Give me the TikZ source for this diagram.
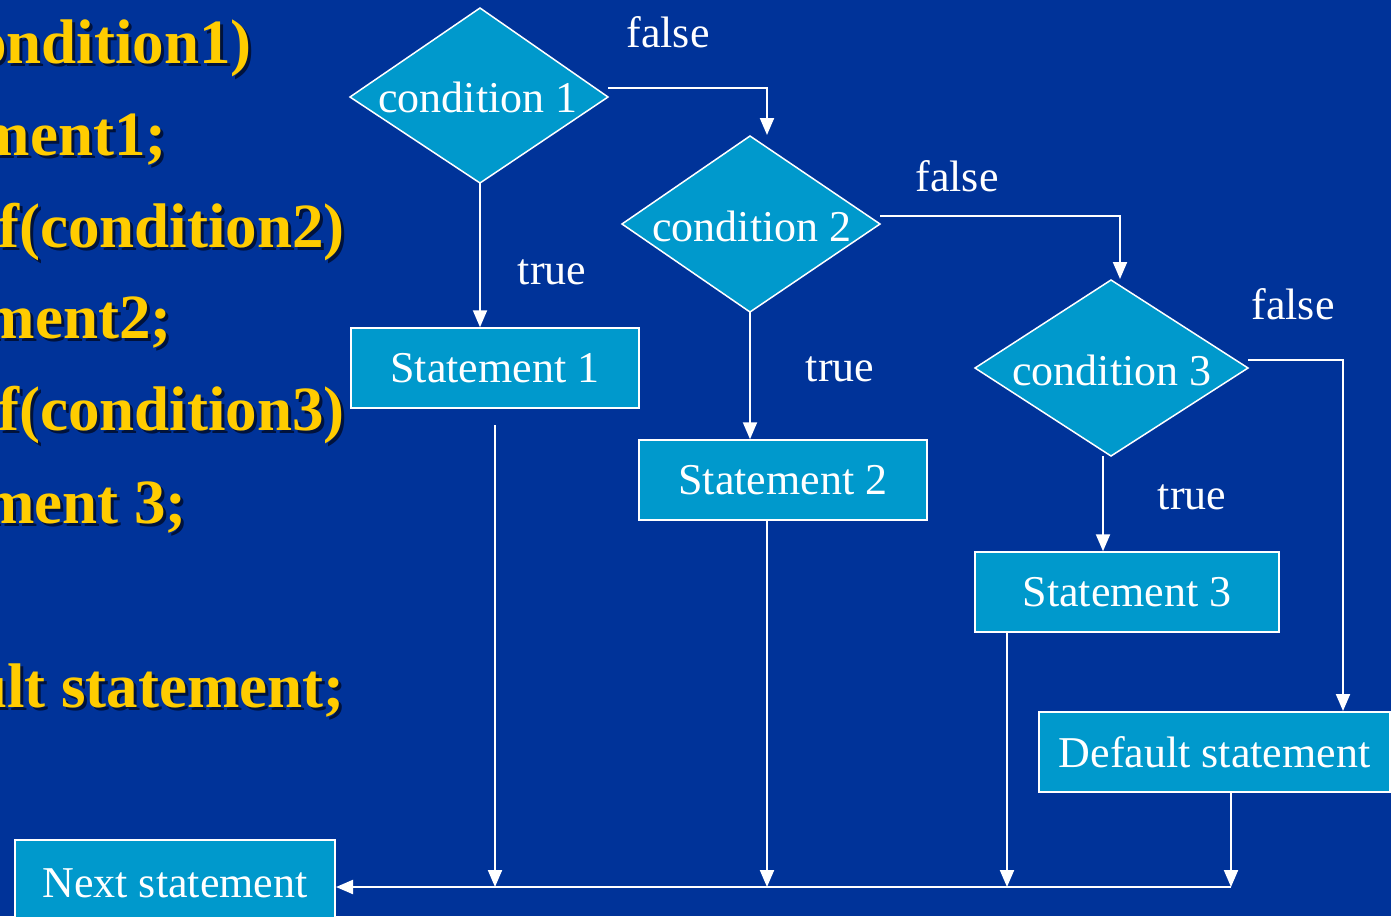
\documentclass[tikz,border=0pt]{standalone}
\usepackage{fontspec}
\setmainfont{Liberation Serif}
\usetikzlibrary{arrows.meta,calc}
\definecolor{bg}{RGB}{0,51,153}
\definecolor{boxc}{RGB}{0,153,204}
\definecolor{codey}{RGB}{255,204,0}
\definecolor{shadowc}{RGB}{0,18,60}
\begin{document}
\begin{tikzpicture}[x=1pt,y=-1pt,
  box/.style={draw=white, line width=1.5pt, fill=boxc, text=white, minimum height=80pt, inner sep=0pt, font=\fontsize{44}{50}\selectfont},
  dia/.style={draw=white, line width=1.5pt, fill=boxc},
  lbl/.style={text=white, inner sep=0pt, font=\fontsize{44}{50}\selectfont},
  arr/.style={draw=white, line width=2pt, -{Triangle[width=14pt,length=17pt]}},
  code/.style={font=\fontsize{63}{69}\selectfont\bfseries, text=codey, anchor=base east, inner sep=0pt},
  codesh/.style={font=\fontsize{63}{69}\selectfont\bfseries, text=shadowc, anchor=base east, inner sep=0pt}]
\useasboundingbox (0,0) rectangle (1391,916);
\fill[bg] (0,0) rectangle (1391,916);
\begin{scope}
\clip (0,0) rectangle (1391,916);
% code text
\foreach \t/\x/\y [count=\i] in {if(condition1)/252/63, statement1;/167/155, else if(condition2)/345/247, statement2;/172/338, else if(condition3)/345/430, statement 3;/187/523, default statement;/345/707}{
  \node[codesh] (s\i) at (\x+3,\y+3) {\t};
  \node[code] (t\i) at (\x,\y) {\t};
}
% diamonds
\path[dia] (350,97) -- (480,8) -- (608,97) -- (480,183) -- cycle;
\path[dia] (622,224) -- (750,136) -- (880,224) -- (750,312) -- cycle;
\path[dia] (975,368) -- (1111,280) -- (1248,368) -- (1111,456) -- cycle;
\node[lbl] (c1) at (478,97) {condition 1};
\node[lbl] (c2) at (752,226) {condition 2};
\node[lbl] (c3) at (1112,370) {condition 3};
% boxes
\node[box, minimum width=288pt] (st1) at (495,368) {Statement 1};
\node[box, minimum width=288pt] (st2) at (783,480) {Statement 2};
\node[box, minimum width=304pt] (st3) at (1127,592) {Statement 3};
\node[box, minimum width=351pt] (def) at (1214.5,752) {Default statement};
\node[box, minimum width=320pt, minimum height=94pt] (nx) at (175,887) {\raisebox{8pt}{Next statement}};
% labels
\node[lbl] (f1) at (668,32) {false};
\node[lbl] (f2) at (957,176) {false};
\node[lbl] (f3) at (1293,304) {false};
\node[lbl] (tr1) at (552,272) {true};
\node[lbl] (tr2) at (840,369) {true};
\node[lbl] (tr3) at (1192,497) {true};
% connector points
\coordinate (c1r) at (608,88);
\coordinate (c1b) at (480,183);
\coordinate (c2t) at (767,135);
\coordinate (c2r) at (880,216);
\coordinate (c2b) at (750,312);
\coordinate (c3t) at (1120,279);
\coordinate (c3r) at (1248,360);
\coordinate (c3b) at (1103,456);
\coordinate (dft) at (1343,711);
\coordinate (s1a) at (495,425);
\coordinate (s2a) at (767,520);
\coordinate (s3a) at (1007,632);
\coordinate (dfa) at (1231,792);
\coordinate (m1) at (495,887);
\coordinate (m2) at (767,887);
\coordinate (m3) at (1007,887);
\coordinate (m4) at (1231,887);
\coordinate (nxe) at (336,887);
% connectors
\draw[arr] (c1r) -| (c2t);
\draw[arr] (c1b) -- (c1b |- st1.north);
\draw[arr] (c2r) -| (c3t);
\draw[arr] (c2b) -- (c2b |- st2.north);
\draw[arr] (c3r) -| (dft);
\draw[arr] (c3b) -- (c3b |- st3.north);
\draw[arr] (s1a) -- (m1);
\draw[arr] (s2a) -- (m2);
\draw[arr] (s3a) -- (m3);
\draw[arr] (dfa) -- (m4);
\draw[arr] (m4) -- (nxe);
\end{scope}
\end{tikzpicture}
\end{document}
